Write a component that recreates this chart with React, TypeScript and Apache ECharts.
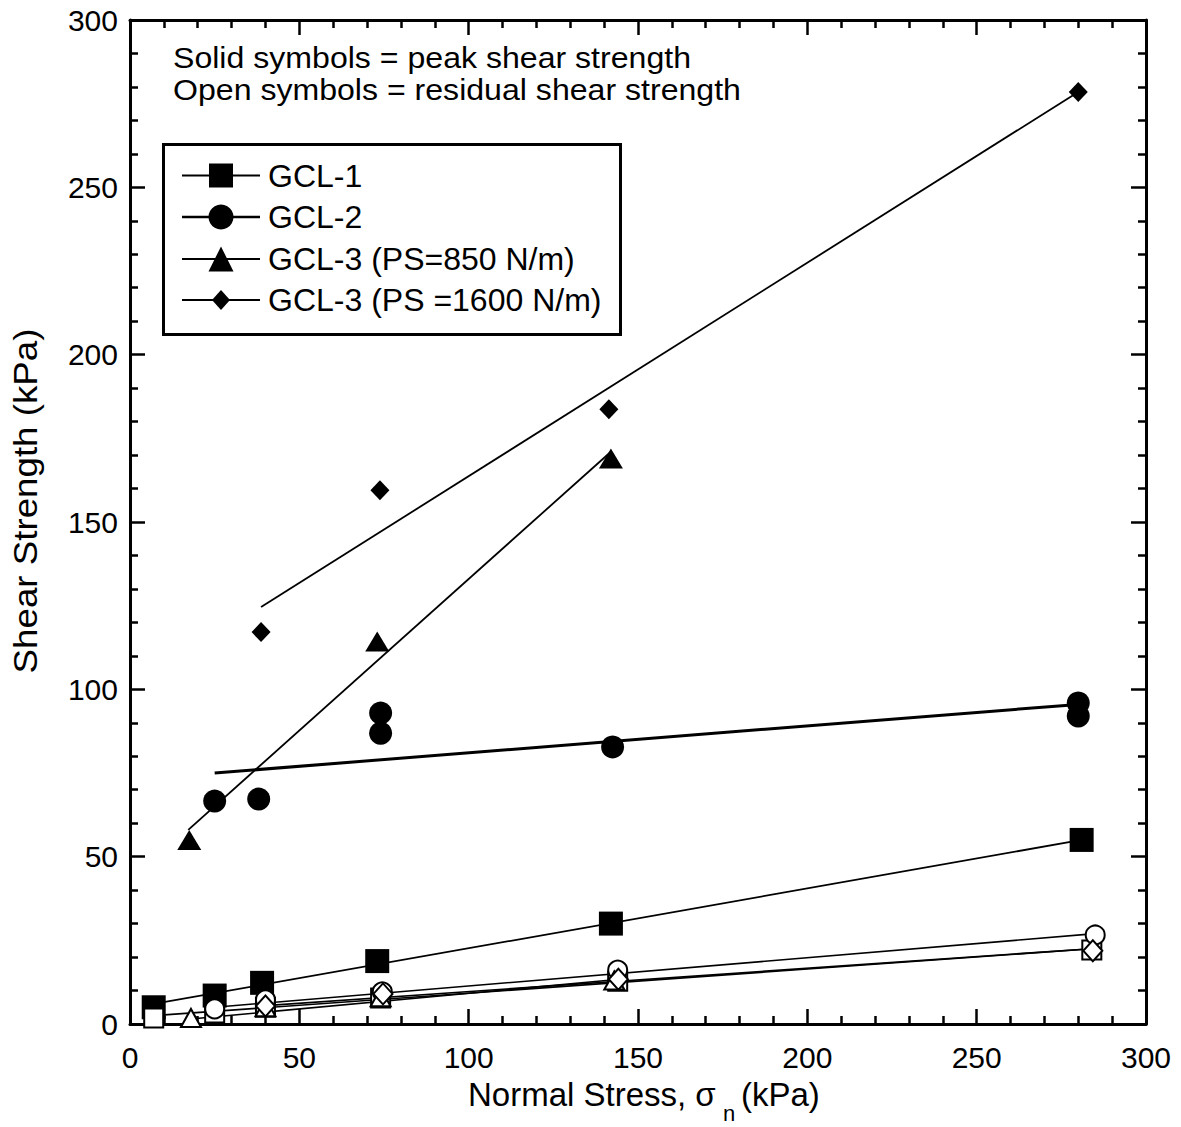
import { useEffect, useRef } from "react";
import * as echarts from "echarts";

// Axis ranges and tick spacing (kPa)
const xRange = [0, 300];
const yRange = [0, 300];
const majorStep = 50;

// Peak shear strength (solid symbols): [normal stress, shear strength]
const gcl1Peak = [[7, 5], [25, 8.5], [39, 12.3], [73, 18.8], [142, 30], [281, 55]];
const gcl2Peak = [[25, 66.6], [38, 67.2], [74, 86.9], [74, 92.9], [142.5, 82.8], [280, 95.9], [280, 92]];
const gcl3aPeak = [[17.5, 55], [73, 114.3], [142, 169]];
const gcl3bPeak = [[38.7, 117.1], [73.8, 159.5], [141.4, 183.7], [280, 278.5]];

// Residual shear strength (open symbols)
const gcl1Residual = [[7, 1.8], [25, 3.3], [40, 5], [74, 7.8], [144, 12.8], [284, 22.1]];
const gcl2Residual = [[25, 4.5], [40, 7.2], [74.5, 9.6], [144, 16.1], [285, 26.6]];
const gcl3aResidual = [[18, 1.8], [40, 5], [74, 8], [143, 13]];
const gcl3bResidual = [[40, 5.4], [74.7, 9], [144.2, 13.4], [284.3, 21.9]];

// Failure envelopes (end points of each fitted line)
const gcl1PeakFit = [[7, 6], [281, 55]];
const gcl2PeakFit = [[25, 75], [280, 95.5]];
const gcl3aPeakFit = [[17.2, 58], [142, 171]];
const gcl3bPeakFit = [[38.7, 124.6], [280, 278.5]];
const gcl1ResidualFit = [[7, 2.5], [284, 22.5]];
const gcl2ResidualFit = [[25, 5], [285, 27]];
const gcl3aResidualFit = [[18, 1.5], [143, 13.2]];
const gcl3bResidualFit = [[40, 5.5], [284, 22.5]];

// Legend entries and notes
const legendNames = ["GCL-1", "GCL-2", "GCL-3 (PS=850 N/m)", "GCL-3 (PS =1600 N/m)"];
const notes = ["Solid symbols = peak shear strength", "Open symbols = residual shear strength"];

const FONT = "'Liberation Sans', Arial, Helvetica, sans-serif";
const BLACK = "#000";

function axisCommon(showLabel: boolean, labelMargin: number, range: number[]) {
  return {
    type: "value",
    min: range[0],
    max: range[1],
    interval: majorStep,
    splitLine: { show: false },
    axisLine: { show: true, onZero: false, lineStyle: { color: BLACK, width: 3 } },
    axisTick: { show: true, inside: true, length: 15, lineStyle: { color: BLACK, width: 2.5 } },
    minorTick: { show: true, splitNumber: 5, length: 8, lineStyle: { color: BLACK, width: 2.5 } },
    axisLabel: {
      show: showLabel,
      color: BLACK,
      fontSize: 30,
      fontFamily: FONT,
      margin: labelMargin,
    },
  };
}

function fitLine(name: string, data: number[][], width: number) {
  return {
    name,
    type: "line",
    data,
    symbol: "none",
    silent: true,
    lineStyle: { color: BLACK, width, opacity: 1 },
    z: 2,
  };
}

function points(name: string, data: number[][], symbol: string, size: number | number[], open: boolean) {
  return {
    name,
    type: "scatter",
    data,
    symbol,
    symbolSize: size,
    silent: true,
    itemStyle: open
      ? { color: "#fff", borderColor: BLACK, borderWidth: 2, opacity: 1 }
      : { color: BLACK, borderColor: BLACK, borderWidth: 0, opacity: 1 },
    z: 3,
  };
}

function legendGraphic() {
  const rows = [175.5, 217, 259, 300];
  const lineX0 = 182;
  const lineX1 = 260;
  const cx = 221;
  const children: any[] = [
    {
      type: "rect",
      shape: { x: 163.5, y: 144.5, width: 457, height: 190 },
      style: { fill: "#fff", stroke: BLACK, lineWidth: 3 },
    },
  ];
  rows.forEach((y, i) => {
    children.push({
      type: "line",
      shape: { x1: lineX0, y1: y, x2: lineX1, y2: y },
      style: { stroke: BLACK, lineWidth: i === 1 ? 2.5 : 1.8 },
    });
    children.push({
      type: "text",
      x: 268,
      y,
      style: {
        text: legendNames[i],
        fontSize: 32,
        fontFamily: FONT,
        fill: BLACK,
        align: "left",
        verticalAlign: "middle",
      },
    });
  });
  children.push({
    type: "rect",
    shape: { x: cx - 12, y: rows[0] - 12, width: 24, height: 24 },
    style: { fill: BLACK },
  });
  children.push({
    type: "circle",
    shape: { cx, cy: rows[1], r: 12.5 },
    style: { fill: BLACK },
  });
  children.push({
    type: "polygon",
    shape: {
      points: [
        [cx, rows[2] - 12.5],
        [cx + 12.5, rows[2] + 12.5],
        [cx - 12.5, rows[2] + 12.5],
      ],
    },
    style: { fill: BLACK },
  });
  children.push({
    type: "polygon",
    shape: {
      points: [
        [cx, rows[3] - 10],
        [cx + 9, rows[3]],
        [cx, rows[3] + 10],
        [cx - 9, rows[3]],
      ],
    },
    style: { fill: BLACK },
  });
  return { type: "group", z: 10, children };
}

export default function App() {
  const ref = useRef<HTMLDivElement>(null);

  useEffect(() => {
    if (!ref.current) return;
    const chart = echarts.init(ref.current, undefined, { renderer: "svg" });

    const noteStyle = { fontSize: 30, fontFamily: FONT, fill: BLACK, align: "left", verticalAlign: "middle" };

    const option: any = {
      animation: false,
      backgroundColor: "#fff",
      grid: { left: 130, top: 20, right: 35, bottom: 103, containLabel: false },
      xAxis: [
        { ...axisCommon(true, 18, xRange), position: "bottom" },
        { ...axisCommon(false, 18, xRange), position: "top" },
      ],
      yAxis: [
        { ...axisCommon(true, 12, yRange), position: "left" },
        { ...axisCommon(false, 12, yRange), position: "right" },
      ],
      series: [
        fitLine("GCL-1 envelope", gcl1PeakFit, 1.8),
        fitLine("GCL-2 envelope", gcl2PeakFit, 3),
        fitLine("GCL-3 (PS=850 N/m) envelope", gcl3aPeakFit, 1.8),
        fitLine("GCL-3 (PS =1600 N/m) envelope", gcl3bPeakFit, 1.8),
        fitLine("GCL-1 residual envelope", gcl1ResidualFit, 1.6),
        fitLine("GCL-2 residual envelope", gcl2ResidualFit, 1.6),
        fitLine("GCL-3 (PS=850 N/m) residual envelope", gcl3aResidualFit, 1.6),
        fitLine("GCL-3 (PS =1600 N/m) residual envelope", gcl3bResidualFit, 1.6),
        points(legendNames[0], gcl1Peak, "rect", 24, false),
        points(legendNames[1], gcl2Peak, "circle", 23, false),
        points(legendNames[2], gcl3aPeak, "triangle", [24, 20], false),
        points(legendNames[3], gcl3bPeak, "diamond", [19, 20], false),
        points(legendNames[0] + " residual", gcl1Residual, "rect", 19, true),
        points(legendNames[1] + " residual", gcl2Residual, "circle", 19, true),
        points(legendNames[2] + " residual", gcl3aResidual, "triangle", [20, 18], true),
        points(legendNames[3] + " residual", gcl3bResidual, "diamond", [19, 21], true),
      ],
      graphic: [
        { type: "text", x: 173, y: 57.5, scaleX: 1.07, style: { text: notes[0], ...noteStyle } },
        { type: "text", x: 173, y: 89.5, scaleX: 1.07, style: { text: notes[1], ...noteStyle } },
        legendGraphic(),
        {
          type: "text",
          x: 25,
          y: 501,
          rotation: Math.PI / 2,
          scaleX: 1.08,
          style: {
            text: "Shear Strength (kPa)",
            fontSize: 34,
            fontFamily: FONT,
            fill: BLACK,
            align: "center",
            verticalAlign: "middle",
          },
        },
        {
          type: "group",
          children: [
            {
              type: "text",
              x: 468,
              y: 1094,
              style: { text: "Normal Stress, σ", fontSize: 33, fontFamily: FONT, fill: BLACK, align: "left", verticalAlign: "middle" },
            },
            {
              type: "text",
              x: 723,
              y: 1113,
              style: { text: "n", fontSize: 22, fontFamily: FONT, fill: BLACK, align: "left", verticalAlign: "middle" },
            },
            {
              type: "text",
              x: 741,
              y: 1094,
              style: { text: "(kPa)", fontSize: 33, fontFamily: FONT, fill: BLACK, align: "left", verticalAlign: "middle" },
            },
          ],
        },
      ],
    };

    chart.setOption(option);
    return () => chart.dispose();
  }, []);

  return (
    <div
      ref={ref}
      style={{ position: "absolute", left: 0, top: 0, width: 1181, height: 1127, background: "#fff" }}
    />
  );
}
